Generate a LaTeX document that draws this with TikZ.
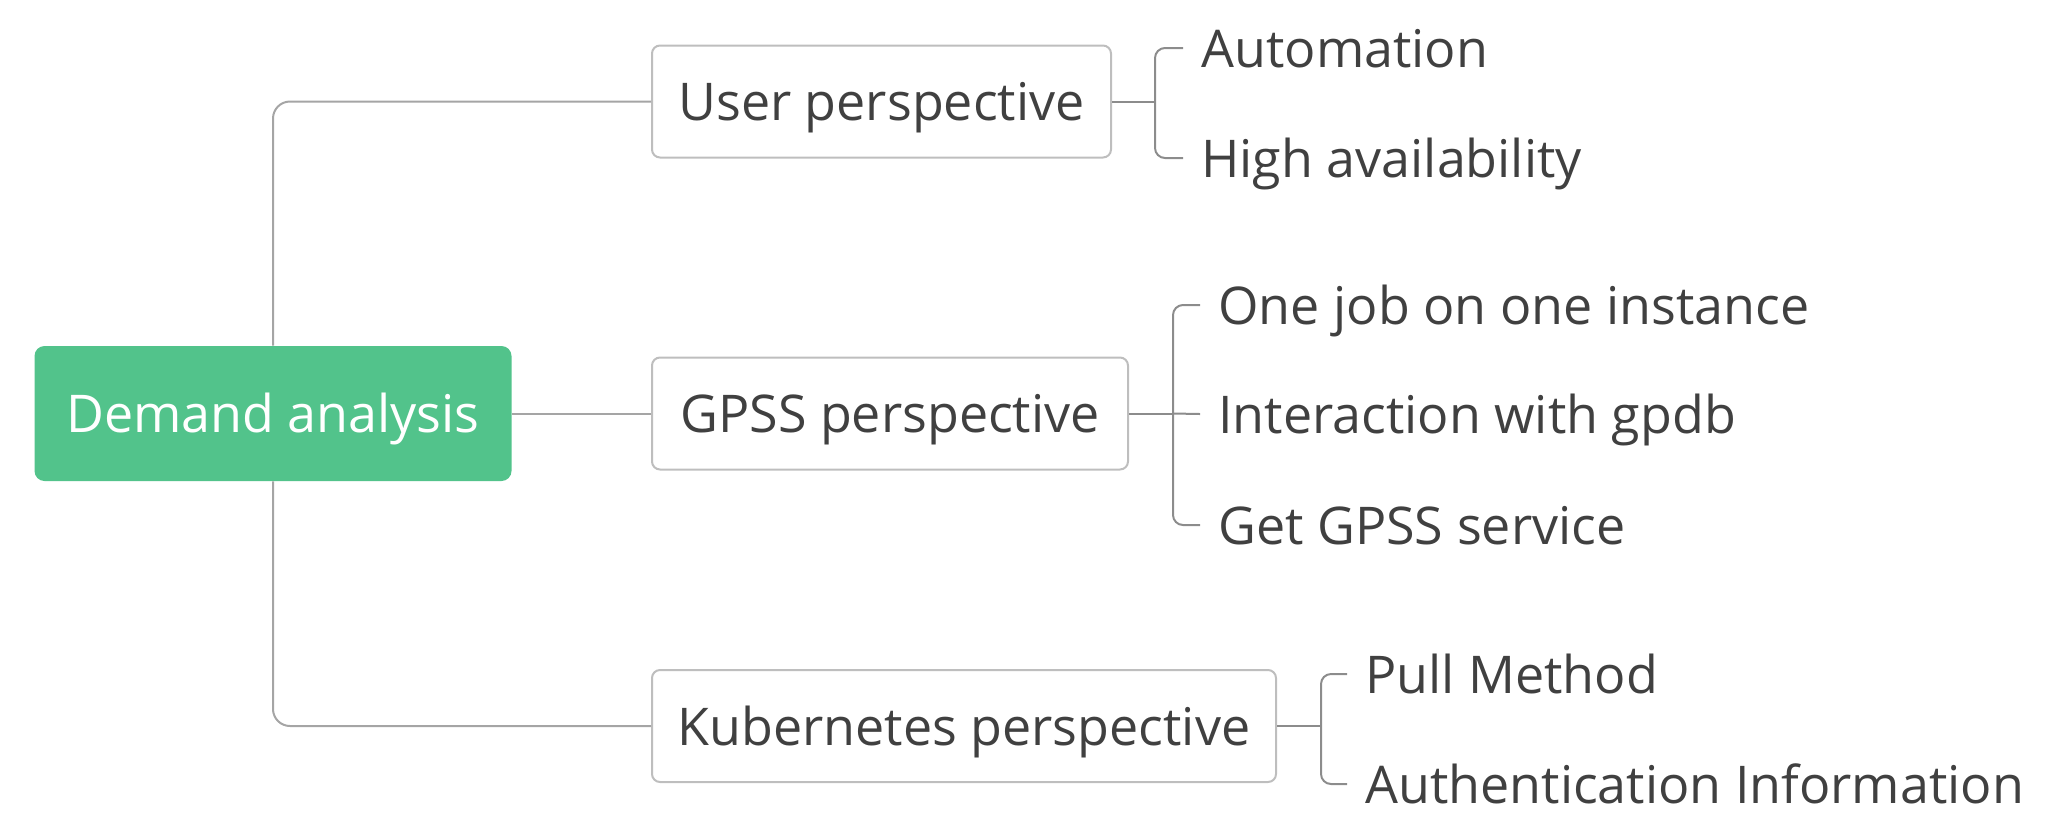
\documentclass[tikz,border=0pt]{standalone}
\usepackage{fontspec}
\setmainfont{Open Sans}
\definecolor{rootgreen}{RGB}{82,195,139}
\definecolor{txt}{RGB}{64,64,64}
\definecolor{boxline}{RGB}{190,190,190}
\definecolor{trunk}{RGB}{165,165,165}
\definecolor{brk}{RGB}{140,140,140}
\begin{document}
\begin{tikzpicture}[x=0.5pt,y=-0.5pt,
  rootbox/.style={fill=rootgreen,rounded corners=5pt,text=white,minimum width=238.5pt,minimum height=67.5pt,inner sep=0pt,text height=19pt,text depth=0pt,font=\fontsize{26}{30}\selectfont},
  subbox/.style={draw=boxline,line width=1pt,fill=white,rounded corners=4pt,text=txt,minimum height=56pt,inner sep=0pt,text height=19pt,text depth=0pt,font=\fontsize{26}{30}\selectfont},
  leaf/.style={anchor=west,text=txt,inner xsep=9pt,inner ysep=0pt,text height=19pt,text depth=0pt,font=\fontsize{26}{30}\selectfont},
  trunkline/.style={draw=trunk,line width=1pt,rounded corners=8.5pt},
  brkline/.style={draw=brk,line width=1pt,rounded corners=5pt}]
\useasboundingbox (0,0) rectangle (2048,836);
\node[rootbox] (root) at (273,413.5) {Demand analysis};
\node[subbox,minimum width=229.5pt] (user) at (881.5,101.5) {User perspective};
\node[subbox,minimum width=238pt] (gpss) at (890,413.5) {GPSS perspective};
\node[subbox,minimum width=312pt] (kube) at (964,726) {Kubernetes perspective};
% leaves
\node[leaf] (a1) at (1183,48) {Automation};
\node[leaf] (a2) at (1183,158) {High availability};
\node[leaf] (g1) at (1200,305) {One job on one instance};
\node[leaf] (g2) at (1200,414) {Interaction with gpdb};
\node[leaf] (g3) at (1200,525) {Get GPSS service};
\node[leaf] (k1) at (1347,674) {Pull Method};
\node[leaf] (k2) at (1347,784) {Authentication Information};
% bracket points
\coordinate (ub) at (1155,101.5);
\coordinate (gb) at (1173,413.5);
\coordinate (kb) at (1321,726);
% trunk connectors
\draw[trunkline] (root.north) |- (user.west);
\draw[trunkline] (root.east) -- (gpss.west);
\draw[trunkline] (root.south) |- (kube.west);
% brackets
\draw[brkline] (user.east) -- (ub);
\draw[brkline] (a1.west) -| (ub) |- (a2.west);
\draw[brkline] (gpss.east) -- (gb);
\draw[brkline] (g1.west) -| (gb) |- (g3.west);
\draw[brkline] (gb) -- (g2.west);
\draw[brkline] (kube.east) -- (kb);
\draw[brkline] (k1.west) -| (kb) |- (k2.west);
\end{tikzpicture}
\end{document}
